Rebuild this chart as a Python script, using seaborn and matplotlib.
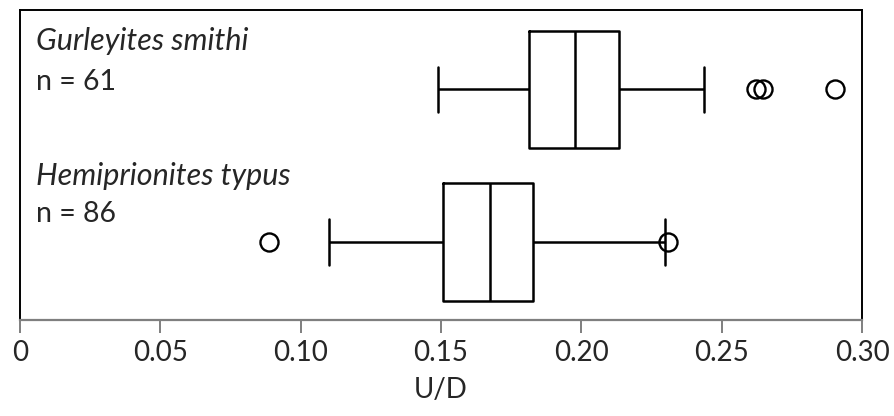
import numpy as np
import pandas as pd
import matplotlib
matplotlib.use("Agg")
import matplotlib.pyplot as plt
import seaborn as sns

# U/D box-plot summaries
species = ["Gurleyites smithi", "Hemiprionites typus"]
sample_sizes = [61, 86]
whisker_low = [0.149, 0.1101]
q1 = [0.1813, 0.1508]
median = [0.1977, 0.1673]
q3 = [0.2133, 0.1828]
whisker_high = [0.2438, 0.2298]
outliers = [[0.2621, 0.2649, 0.2903], [0.0887, 0.2310]]

tick_values = [0, 0.05, 0.10, 0.15, 0.20, 0.25, 0.30]
tick_labels = ["0", "0.05", "0.10", "0.15", "0.20", "0.25", "0.30"]


def sample_from_summary(lo, a, m, b, hi, fl, k=10):
    # a small sample whose quartiles / whiskers / fliers reproduce the summary
    return sorted([lo, hi] + [a] * k + [m] * k + [b] * k + list(fl))


rows = []
for i, sp in enumerate(species):
    vals = sample_from_summary(whisker_low[i], q1[i], median[i], q3[i],
                               whisker_high[i], outliers[i])
    rows += [{"species": sp, "U/D": v} for v in vals]
df = pd.DataFrame(rows)

sns.set_style("white")
plt.rcParams["font.family"] = ["Lato", "DejaVu Sans"]

fig = plt.figure(figsize=(8.94, 4.16), dpi=100)
ax = fig.add_axes([20 / 894, 96 / 416, 842 / 894, 310 / 416])

sns.boxplot(data=df, x="U/D", y="species", orient="h", ax=ax,
            width=0.77, fill=False, color="black", linecolor="black",
            linewidth=1.8, whis=1.5, fliersize=13, capwidths=0.3,
            flierprops=dict(marker="o", markerfacecolor="none",
                            markeredgecolor="black", markeredgewidth=1.7))

ax.set_xlim(0, 0.30)
ax.set_ylim(1.511, -0.521)
ax.set_xticks(tick_values)
ax.set_xticklabels(tick_labels)
ax.set_yticks([])
ax.set_ylabel("")
ax.set_xlabel("U/D", fontsize=20, labelpad=8)
ax.tick_params(axis="x", direction="out", length=9.5, width=1.4,
               color="#7f7f7f", labelsize=20, pad=5, bottom=True)

for side in ["top", "left", "right"]:
    ax.spines[side].set_color("black")
    ax.spines[side].set_linewidth(1.4)
ax.spines["bottom"].set_color("#7f7f7f")
ax.spines["bottom"].set_linewidth(1.6)

# species name and n, written inside the plot area
name_y = [0.871, 0.4355]
n_y = [0.742, 0.316]
for i, sp in enumerate(species):
    ax.text(0.019, name_y[i], sp, transform=ax.transAxes, fontsize=22,
            style="italic", va="baseline", ha="left")
    ax.text(0.019, n_y[i], f"n = {sample_sizes[i]}", transform=ax.transAxes,
            fontsize=20.5, va="baseline", ha="left")

fig.savefig("out.png", dpi=100)
